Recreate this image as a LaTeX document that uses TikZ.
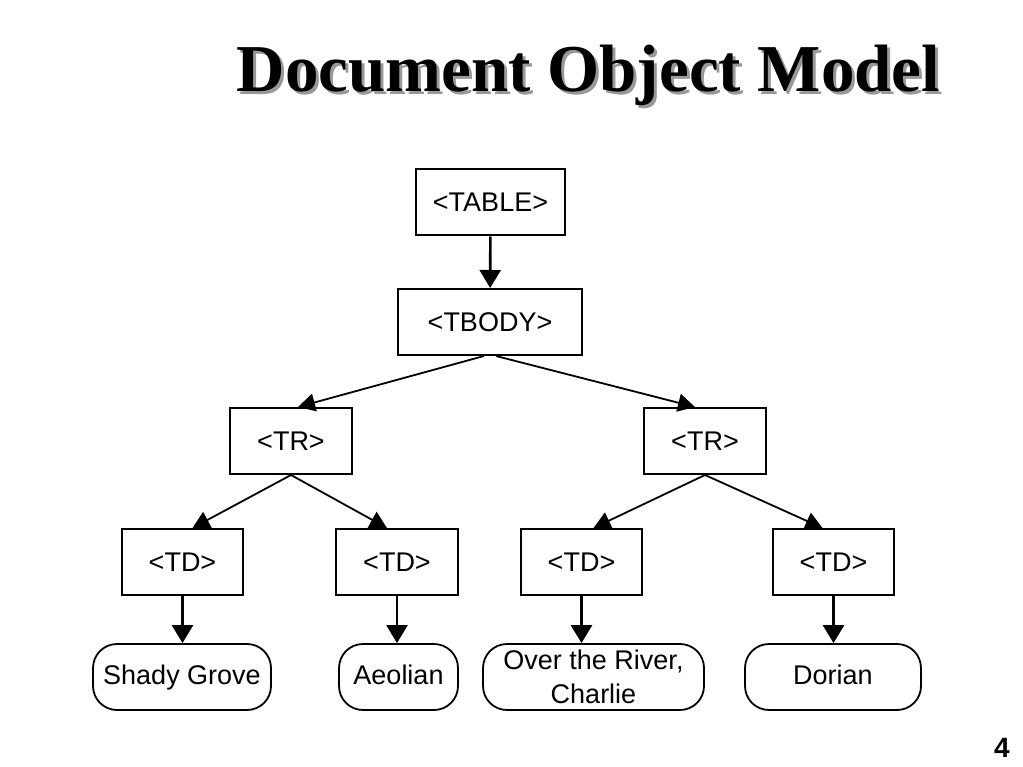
\documentclass[tikz,border=0pt]{standalone}
\usepackage{fontspec}
\setmainfont{Liberation Sans}
\newfontfamily\titlefont{Liberation Serif}
\usetikzlibrary{arrows.meta}
\begin{document}
\begin{tikzpicture}[x=1pt,y=-1pt,
  tagbox/.style={draw,line width=2pt,inner sep=0pt,minimum height=66pt,
    text height=19pt,text depth=0pt,font=\fontsize{27}{32}\selectfont},
  leafbox/.style={draw,line width=1.8pt,inner sep=0pt,minimum height=66pt,
    rounded corners=24pt,align=center,font=\fontsize{27}{34}\selectfont},
  leafone/.style={text height=20pt,text depth=6pt},
  vedge/.style={line width=2.6pt,-{Triangle[length=18pt,width=21pt]}},
  dedge/.style={line width=1.8pt,-{Triangle[length=17pt,width=18pt]}}]
\useasboundingbox (0,0) rectangle (1023,767);
% title
\node[anchor=base,text=black!40,font=\titlefont\bfseries\fontsize{67}{80}\selectfont] (titleshadow) at (591.5,95) {Document Object Model};
\node[anchor=base,font=\titlefont\bfseries\fontsize{67}{80}\selectfont] (title) at (588.5,92) {Document Object Model};
% nodes
\node[tagbox,minimum width=149pt] (table) at (490.5,202.5) {<TABLE>};
\node[tagbox,minimum width=184pt] (tbody) at (490,322) {<TBODY>};
\node[tagbox,minimum width=122pt] (trl) at (291,441) {<TR>};
\node[tagbox,minimum width=122pt] (trr) at (705,441) {<TR>};
\node[tagbox,minimum width=121pt] (td1) at (182.5,562) {<TD>};
\node[tagbox,minimum width=122pt] (td2) at (397,562) {<TD>};
\node[tagbox,minimum width=121pt] (td3) at (581.5,562) {<TD>};
\node[tagbox,minimum width=121pt] (td4) at (833.5,562) {<TD>};
\node[leafbox,leafone,minimum width=178pt] (l1) at (182,677) {Shady Grove};
\node[leafbox,leafone,minimum width=119pt] (l2) at (398.5,677) {Aeolian};
\node[leafbox,minimum width=221pt] (l3) at (593.5,677) {Over the River,\\Charlie};
\node[leafbox,leafone,minimum width=176pt] (l4) at (833,677) {Dorian};
% page number
\node[anchor=base,font=\bfseries\fontsize{28}{32}\selectfont] (pagenum) at (1002,757) {4};
% edges
\draw[vedge] (table) -- (tbody);
\draw[dedge] ([xshift=-6pt]tbody.south) -- ([xshift=7pt]trl.north);
\draw[dedge] ([xshift=6pt]tbody.south) -- ([xshift=-10pt]trr.north);
\draw[dedge] (trl.south) -- ([xshift=10pt]td1.north);
\draw[dedge] (trl.south) -- ([xshift=-10pt]td2.north);
\draw[dedge] (trr.south) -- ([xshift=12pt]td3.north);
\draw[dedge] (trr.south) -- ([xshift=-11pt]td4.north);
\draw[vedge] (td1) -- (td1 |- l1.north);
\draw[vedge] (td2) -- (td2 |- l2.north);
\draw[vedge] (td3) -- (td3 |- l3.north);
\draw[vedge] (td4) -- (td4 |- l4.north);
\end{tikzpicture}
\end{document}
